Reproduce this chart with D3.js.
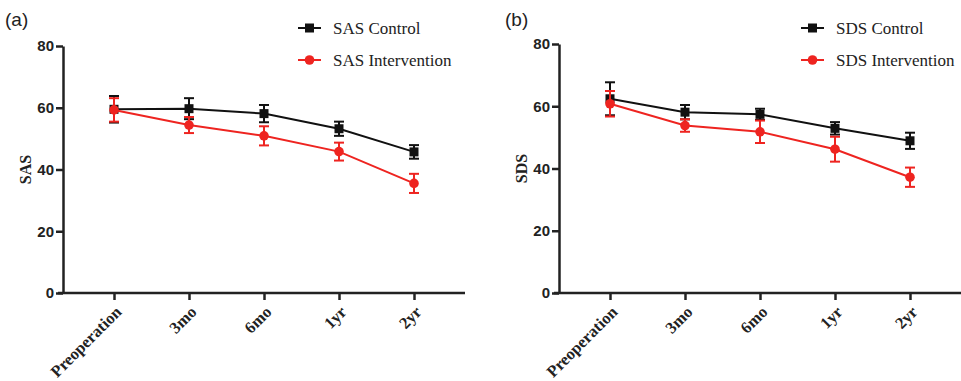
<!DOCTYPE html>
<html>
<head>
<meta charset="utf-8">
<script src="https://cdn.jsdelivr.net/npm/d3@7"></script>
<style>
  body { margin: 0; background: #fff; }
  svg { display: block; }
  .axis path, .axis line { stroke: #222; stroke-width: 2.5; }
  .ytick text { font-family: "Liberation Sans", Arial, sans-serif; font-weight: bold; font-size: 15px; fill: #222; }
  .xtick text { font-family: "Liberation Serif", "Times New Roman", serif; font-weight: bold; font-size: 16.5px; fill: #222; }
</style>
</head>
<body>
<div id="chart"></div>
<script>
// time points
const categories = ['Preoperation', '3mo', '6mo', '1yr', '2yr'];
const yTicks = [0, 20, 40, 60, 80];

// panel (a) SAS
const sasControl = [59.5, 59.7, 58.1, 53.2, 45.7];
const sasControlErr = [4.3, 3.4, 2.8, 2.3, 2.2];
const sasIntervention = [59.3, 54.4, 50.9, 45.8, 35.5];
const sasInterventionErr = [3.8, 2.6, 3.1, 2.9, 3.1];

// panel (b) SDS
const sdsControl = [62.4, 58.1, 57.4, 52.9, 48.9];
const sdsControlErr = [5.3, 2.3, 1.8, 2.0, 2.6];
const sdsIntervention = [60.8, 53.8, 51.8, 46.2, 37.2];
const sdsInterventionErr = [4.1, 2.0, 3.6, 4.0, 3.1];

const black = '#111', red = '#ee2420';

const svg = d3.select('#chart').append('svg')
  .attr('width', 961)
  .attr('height', 381);

const panels = [
  {label: '(a)', labelX: 5, title: 'SAS', x0: 63, x1: 465, yTop: 46, yBot: 293, titleX: 25,
    legendX: 298, names: ['SAS Control', 'SAS Intervention'],
    series: [[sasControl, sasControlErr], [sasIntervention, sasInterventionErr]]},
  {label: '(b)', labelX: 505, title: 'SDS', x0: 559, x1: 961, yTop: 44, yBot: 293, titleX: 521,
    legendX: 801, names: ['SDS Control', 'SDS Intervention'],
    series: [[sdsControl, sdsControlErr], [sdsIntervention, sdsInterventionErr]]}
];

panels.forEach(p => {
  const g = svg.append('g');
  const x = d3.scalePoint().domain(categories).range([p.x0, p.x1]).padding(0.68);
  const y = d3.scaleLinear().domain([0, 80]).range([p.yBot, p.yTop]);

  // axes
  g.append('g').attr('class', 'axis ytick')
    .attr('transform', 'translate(' + p.x0 + ',0)')
    .call(d3.axisLeft(y).tickValues(yTicks).tickSize(7).tickSizeOuter(0).tickPadding(2));
  const xa = g.append('g').attr('class', 'axis xtick')
    .attr('transform', 'translate(0,' + p.yBot + ')')
    .call(d3.axisBottom(x).tickSize(7).tickSizeOuter(0));
  xa.select('.domain').attr('d', 'M' + (p.x0 - 5) + ',0H' + p.x1);
  xa.selectAll('.tick text')
    .attr('text-anchor', 'end')
    .attr('dy', null)
    .attr('y', 0)
    .attr('transform', 'translate(8,20) rotate(-45)');

  // panel label
  g.append('text').attr('x', p.labelX).attr('y', 26)
    .style('font-family', '"Liberation Sans", Arial, sans-serif')
    .style('font-size', '19px').attr('fill', '#222').text(p.label);

  // y title
  g.append('text')
    .attr('transform', 'translate(' + (p.titleX + 6) + ',' + ((p.yTop + p.yBot) / 2) + ') rotate(-90)')
    .attr('text-anchor', 'middle')
    .style('font-family', '"Liberation Serif", "Times New Roman", serif')
    .style('font-weight', 'bold').style('font-size', '16px').attr('fill', '#222')
    .text(p.title);

  const line = d3.line().x((d, i) => x(categories[i])).y(d => y(d));

  p.series.forEach(([vals, errs], si) => {
    const col = si === 0 ? black : red;
    const sg = g.append('g');
    sg.append('path').datum(vals)
      .attr('d', line).attr('fill', 'none')
      .attr('stroke', col).attr('stroke-width', 2);
    // error bars
    const eb = sg.selectAll('.eb').data(vals).enter().append('g')
      .attr('stroke', col).attr('stroke-width', 2);
    eb.append('line')
      .attr('x1', (d, i) => x(categories[i])).attr('x2', (d, i) => x(categories[i]))
      .attr('y1', (d, i) => y(d + errs[i])).attr('y2', (d, i) => y(d - errs[i]));
    [1, -1].forEach(s => {
      eb.append('line')
        .attr('x1', (d, i) => x(categories[i]) - 5).attr('x2', (d, i) => x(categories[i]) + 5)
        .attr('y1', (d, i) => y(d + s * errs[i])).attr('y2', (d, i) => y(d + s * errs[i]));
    });
    if (si === 0) {
      sg.selectAll('rect').data(vals).enter().append('rect')
        .attr('x', (d, i) => x(categories[i]) - 4.5).attr('y', d => y(d) - 4.5)
        .attr('width', 9).attr('height', 9).attr('fill', col);
    } else {
      sg.selectAll('circle').data(vals).enter().append('circle')
        .attr('cx', (d, i) => x(categories[i])).attr('cy', d => y(d))
        .attr('r', 4.8).attr('fill', col);
    }

    // legend
    const ly = si === 0 ? 28 : 60;
    const lg = g.append('g').attr('transform', 'translate(' + p.legendX + ',' + ly + ')');
    lg.append('line').attr('x1', 0).attr('x2', 23).attr('stroke', col).attr('stroke-width', 2);
    if (si === 0) lg.append('rect').attr('x', 7).attr('y', -4.5).attr('width', 9).attr('height', 9).attr('fill', col);
    else lg.append('circle').attr('cx', 11.5).attr('r', 4.8).attr('fill', col);
    lg.append('text').attr('x', 35).attr('y', 5.5)
      .style('font-family', '"Liberation Serif", "Times New Roman", serif')
      .style('font-size', '17px').attr('fill', '#222')
      .text(p.names[si]);
  });
});
</script>
</body>
</html>
